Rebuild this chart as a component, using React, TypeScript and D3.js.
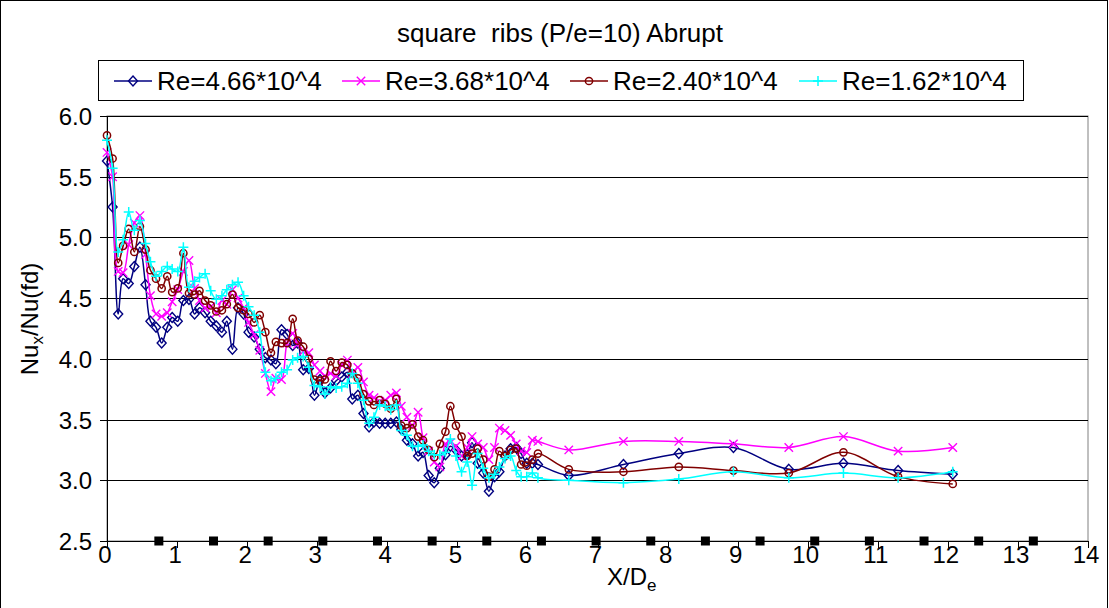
import React from "react";
import * as d3 from "d3";

// Axial positions X/De of the measurement stations (dense between ribs up to ~6, then one per pitch)
const X_STATIONS = [
  0.0, 0.08, 0.16, 0.23, 0.31, 0.39, 0.47, 0.55, 0.62, 0.7,
  0.78, 0.86, 0.93, 1.01, 1.09, 1.17, 1.25, 1.32, 1.4, 1.48,
  1.56, 1.64, 1.71, 1.79, 1.87, 1.95, 2.02, 2.1, 2.18, 2.26,
  2.34, 2.41, 2.49, 2.57, 2.65, 2.72, 2.8, 2.88, 2.96, 3.04,
  3.11, 3.19, 3.27, 3.35, 3.43, 3.5, 3.58, 3.66, 3.74, 3.81,
  3.89, 3.97, 4.05, 4.13, 4.2, 4.28, 4.36, 4.44, 4.51, 4.59,
  4.67, 4.75, 4.83, 4.9, 4.98, 5.06, 5.14, 5.21, 5.29, 5.37,
  5.45, 5.53, 5.6, 5.68, 5.76, 5.84, 5.91, 5.99, 6.07, 6.15,
  6.59, 7.37, 8.16, 8.94, 9.73, 10.51, 11.29, 12.07,
];

// Nux/Nu(fd) for each Reynolds number
const NU_RE_466 = [
  5.63, 5.25, 4.37, 4.66, 4.62, 4.76, 4.92, 4.61, 4.31, 4.26,
  4.13, 4.26, 4.34, 4.31, 4.48, 4.49, 4.37, 4.42, 4.38, 4.31,
  4.27, 4.22, 4.31, 4.08, 4.42, 4.37, 4.22, 4.18, 4.08, 4.01,
  3.99, 3.96, 4.24, 4.2, 4.11, 4.13, 3.91, 3.92, 3.7, 3.83,
  3.72, 3.76, 3.82, 3.85, 3.89, 3.67, 3.7, 3.55, 3.44, 3.48,
  3.47, 3.47, 3.47, 3.48, 3.42, 3.33, 3.3, 3.2, 3.23, 3.04,
  2.98, 3.1, 3.21, 3.28, 3.25, 3.2, 3.21, 3.31, 3.14, 3.06,
  2.91, 3.03, 3.07, 3.2, 3.26, 3.27, 3.22, 3.14, 3.14, 3.13,
  3.04, 3.13, 3.22, 3.27, 3.09, 3.14, 3.08, 3.05,
];
const NU_RE_368 = [
  5.7, 5.5, 4.72, 4.71, 4.94, 5.12, 5.18, 4.86, 4.52, 4.37,
  4.35, 4.38, 4.47, 4.57, 4.72, 4.81, 4.58, 4.48, 4.42, 4.43,
  4.38, 4.48, 4.45, 4.57, 4.5, 4.42, 4.3, 4.2, 4.07, 3.88,
  3.73, 3.84, 3.83, 4.13, 4.21, 4.12, 4.06, 4.05, 3.95, 3.9,
  3.86, 3.88, 3.86, 3.95, 3.99, 3.88, 3.93, 3.81, 3.7, 3.68,
  3.65, 3.66, 3.7, 3.72, 3.61, 3.52, 3.45, 3.56, 3.35, 3.24,
  3.15, 3.11, 3.3, 3.31, 3.28, 3.2, 3.27, 3.36, 3.3, 3.27,
  3.17, 3.27, 3.43, 3.41, 3.37, 3.3, 3.24, 3.23, 3.33, 3.32,
  3.25, 3.32, 3.32, 3.3, 3.27, 3.36, 3.24, 3.27,
];
const NU_RE_240 = [
  5.84, 5.65, 4.79, 4.93, 5.07, 4.88, 5.09, 4.9, 4.73, 4.66,
  4.58, 4.68, 4.55, 4.58, 4.87, 4.54, 4.53, 4.56, 4.48, 4.44,
  4.39, 4.4, 4.45, 4.53, 4.42, 4.4, 4.37, 4.3, 4.36, 4.22,
  4.05, 4.14, 4.13, 4.13, 4.33, 4.15, 4.1, 4.0, 3.83, 3.82,
  3.83, 3.98, 3.9, 3.97, 3.95, 3.88, 3.84, 3.71, 3.65, 3.62,
  3.66, 3.63, 3.59, 3.67, 3.45, 3.43, 3.46, 3.36, 3.33, 3.25,
  3.19, 3.3, 3.4, 3.61, 3.45, 3.36, 3.2, 3.22, 3.26, 3.17,
  3.03, 3.09, 3.24, 3.2, 3.25, 3.26, 3.13, 3.12, 3.17, 3.22,
  3.09, 3.07, 3.11, 3.08, 3.06, 3.23, 3.03, 2.97,
];
const NU_RE_162 = [
  5.8, 5.57, 4.88, 4.98, 5.21, 5.06, 5.14, 4.95, 4.8, 4.68,
  4.72, 4.76, 4.74, 4.72, 4.92, 4.59, 4.64, 4.67, 4.7, 4.56,
  4.49, 4.52, 4.57, 4.61, 4.63, 4.52, 4.43, 4.36, 4.22, 3.89,
  3.82, 3.84, 3.89, 3.91, 3.99, 4.01, 4.02, 3.93, 3.78, 3.77,
  3.71, 3.77, 3.76, 3.77, 3.8, 3.88, 3.8, 3.66, 3.47, 3.52,
  3.62, 3.61, 3.58, 3.62, 3.41, 3.37, 3.28, 3.28, 3.29, 3.24,
  3.21, 3.21, 3.23, 3.34, 3.2, 3.07, 3.15, 2.96, 3.22, 3.1,
  3.02, 3.05, 3.11, 3.18, 3.2, 3.08, 3.03, 3.03, 3.06, 3.02,
  3.0, 2.98, 3.01, 3.07, 3.02, 3.06, 3.02, 3.07,
];

// Rib locations drawn along the bottom of the plot
const RIB_X = [0.74, 1.52, 2.3, 3.08, 3.86, 4.64, 5.42, 6.2, 6.98, 7.76, 8.54, 9.32, 10.1, 10.88, 11.66, 12.44, 13.22];
const RIB_LEVEL = 2.5;

const SERIES_LABELS = ["Re=4.66*10^4", "Re=3.68*10^4", "Re=2.40*10^4", "Re=1.62*10^4"];
const SERIES_COLORS = ["#000080", "#FF00FF", "#800000", "#00FFFF"];
const SERIES_MARKERS = ["diamond", "cross", "circle", "plus"];
const SERIES_VALUES = [NU_RE_466, NU_RE_368, NU_RE_240, NU_RE_162];

const X_TICKS = [0, 1, 2, 3, 4, 5, 6, 7, 8, 9, 10, 11, 12, 13, 14];
const Y_TICKS = [2.5, 3.0, 3.5, 4.0, 4.5, 5.0, 5.5, 6.0];

const TITLE = "square  ribs (P/e=10) Abrupt";
const FONT = "'Liberation Sans', Arial, sans-serif";

const W = 1109;
const H = 608;
const PLOT = { left: 107, right: 1088, top: 116, bottom: 541 };

function Marker({ kind, x, y, color }: { kind: string; x: number; y: number; color: string }) {
  if (kind === "diamond") {
    return (
      <path
        d={`M${x},${y - 5}L${x + 4.5},${y}L${x},${y + 5}L${x - 4.5},${y}Z`}
        fill="none"
        stroke={color}
        strokeWidth={1.4}
      />
    );
  }
  if (kind === "circle") {
    return <circle cx={x} cy={y} r={3.6} fill="none" stroke={color} strokeWidth={1.5} />;
  }
  if (kind === "cross") {
    const s = 4.2;
    return (
      <path
        d={`M${x - s},${y - s}L${x + s},${y + s}M${x - s},${y + s}L${x + s},${y - s}`}
        stroke={color}
        strokeWidth={1.4}
      />
    );
  }
  const s = 5;
  return (
    <path d={`M${x - s},${y}L${x + s},${y}M${x},${y - s}L${x},${y + s}`} stroke={color} strokeWidth={1.5} />
  );
}

export default function App() {
  const x = d3.scaleLinear().domain([0, 14]).range([PLOT.left, PLOT.right]);
  const y = d3.scaleLinear().domain([2.5, 6.0]).range([PLOT.bottom, PLOT.top]);

  const line = d3
    .line<[number, number]>()
    .x((d) => x(d[0]))
    .y((d) => y(d[1]))
    .curve(d3.curveCatmullRom.alpha(0.5));

  const legendX = [114, 342, 570, 799];

  return (
    <svg
      width={W}
      height={H}
      style={{ position: "absolute", left: 0, top: 0, background: "#fff" }}
      fontFamily={FONT}
    >
      <rect x={0.5} y={0.5} width={W - 2} height={H + 10} fill="#fff" stroke="#000" strokeWidth={1} />

      <text x={560} y={42} textAnchor="middle" fontSize={26} style={{ whiteSpace: "pre" }}>
        {TITLE}
      </text>

      {/* plot frame and gridlines */}
      <rect
        x={PLOT.left}
        y={PLOT.top}
        width={PLOT.right - PLOT.left}
        height={PLOT.bottom - PLOT.top}
        fill="#fff"
        stroke="#808080"
        strokeWidth={1}
      />
      {Y_TICKS.map((t) => (
        <line
          key={"g" + t}
          x1={PLOT.left - 7}
          x2={PLOT.right}
          y1={Math.round(y(t)) + 0.5}
          y2={Math.round(y(t)) + 0.5}
          stroke="#000"
          strokeWidth={1}
        />
      ))}
      {Y_TICKS.map((t) => (
        <text key={"yl" + t} x={92} y={y(t) + 9} textAnchor="end" fontSize={24}>
          {t.toFixed(1)}
        </text>
      ))}

      {/* axes */}
      <line x1={PLOT.left + 0.5} x2={PLOT.left + 0.5} y1={PLOT.top} y2={PLOT.bottom} stroke="#000" />
      <line x1={PLOT.left} x2={PLOT.right} y1={PLOT.bottom + 0.5} y2={PLOT.bottom + 0.5} stroke="#000" />
      {X_TICKS.map((t) => (
        <line
          key={"xt" + t}
          x1={Math.round(x(t)) + 0.5}
          x2={Math.round(x(t)) + 0.5}
          y1={PLOT.bottom}
          y2={PLOT.bottom + 7}
          stroke="#000"
        />
      ))}
      {X_TICKS.map((t) => (
        <text key={"xl" + t} x={x(t) - 2} y={563} textAnchor="middle" fontSize={24}>
          {t}
        </text>
      ))}

      {/* rib markers */}
      {RIB_X.map((r) => (
        <rect key={"rib" + r} x={x(r) - 4.5} y={y(RIB_LEVEL) - 4.5} width={9} height={9} fill="#000" />
      ))}

      {/* data series */}
      {SERIES_VALUES.map((vals, si) => {
        const pts: [number, number][] = vals.map((v, i) => [X_STATIONS[i], v]);
        return (
          <g key={"s" + si}>
            <path d={line(pts) || ""} fill="none" stroke={SERIES_COLORS[si]} strokeWidth={1.5} />
            {pts.map((p, i) => (
              <Marker key={i} kind={SERIES_MARKERS[si]} x={x(p[0])} y={y(p[1])} color={SERIES_COLORS[si]} />
            ))}
          </g>
        );
      })}

      {/* axis titles */}
      <text transform="translate(38,319) rotate(-90)" textAnchor="middle" fontSize={24}>
        Nu
        <tspan fontSize={17} dy={5}>x</tspan>
        <tspan dy={-5}>/Nu(fd)</tspan>
      </text>
      <text x={607} y={585} fontSize={24}>
        X/D
        <tspan fontSize={17} dy={6}>e</tspan>
      </text>

      {/* legend */}
      <rect x={98.5} y={60.5} width={925} height={40} fill="#fff" stroke="#000" strokeWidth={1} />
      {SERIES_LABELS.map((lab, i) => (
        <g key={"lg" + i}>
          <line x1={legendX[i]} x2={legendX[i] + 38} y1={81} y2={81} stroke={SERIES_COLORS[i]} strokeWidth={1.5} />
          <Marker kind={SERIES_MARKERS[i]} x={legendX[i] + 19} y={81} color={SERIES_COLORS[i]} />
          <text x={legendX[i] + 43} y={90} fontSize={26}>
            {lab}
          </text>
        </g>
      ))}
    </svg>
  );
}
